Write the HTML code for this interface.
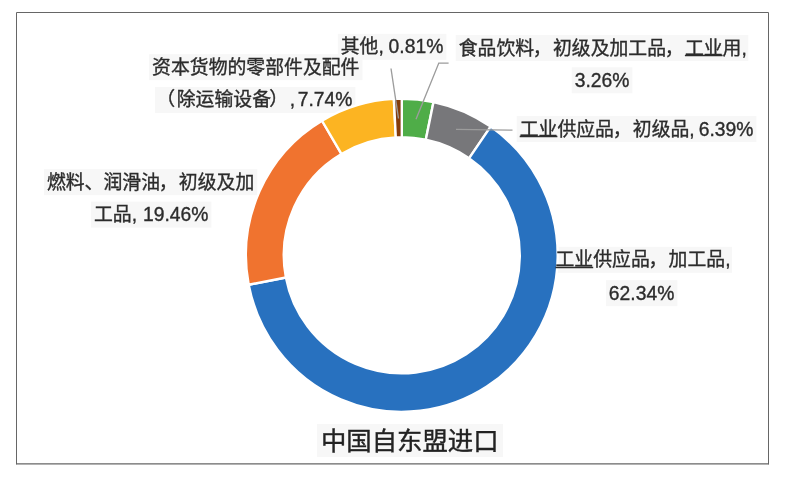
<!DOCTYPE html>
<html lang="zh-CN">
<head>
<meta charset="utf-8">
<title>中国自东盟进口</title>
<style>
html,body{margin:0;padding:0;background:#ffffff;}
body{width:785px;height:477px;overflow:hidden;font-family:"Liberation Sans","Noto Sans CJK SC",sans-serif;}
svg{display:block;will-change:transform;font-family:"Liberation Sans","Noto Sans CJK SC",sans-serif;}
.c{font-size:18.85px;}
</style>
</head>
<body>
<svg width="785" height="477" viewBox="0 0 785 477">
<path d="M16.5 464.3V12.5H768.5V464.3" fill="none" stroke="#666666" stroke-width="1"/><path d="M16 463.85H769" fill="none" stroke="#666666" stroke-width="1.3"/>
<g fill="#f7f7f7"><rect x="337.8" y="33.8" width="108.6" height="26"/><rect x="455.7" y="35.1" width="292.6" height="26"/><rect x="571.7" y="67.3" width="60.7" height="26"/><rect x="516.7" y="116.1" width="239.7" height="26"/><rect x="552.5" y="246.8" width="179.5" height="26"/><rect x="605.9" y="280.2" width="71.5" height="26"/><rect x="43.9" y="169.2" width="213.4" height="26"/><rect x="91.0" y="201.6" width="120.4" height="26"/><rect x="149.1" y="54.2" width="213.4" height="26"/><rect x="154.9" y="86.9" width="200.5" height="26"/><rect x="317" y="424" width="186" height="33"/></g>
<g stroke="#ffffff" stroke-width="2.4" stroke-linejoin="round"><path d="M401.80 98.70A155.90 156.60 0 0 1 433.51 101.97L425.80 139.77A118.00 118.00 0 0 0 401.80 137.30Z" fill="#4fad48"/><path d="M433.51 101.97A155.90 156.60 0 0 1 490.64 126.61L469.04 158.33A118.00 118.00 0 0 0 425.80 139.77Z" fill="#77777a"/><path d="M490.64 126.61A155.90 156.60 0 1 1 248.68 284.74L285.90 277.48A118.00 118.00 0 1 0 469.04 158.33Z" fill="#2871bf"/><path d="M248.68 284.74A155.90 156.60 0 0 1 322.02 120.76L341.41 153.92A118.00 118.00 0 0 0 285.90 277.48Z" fill="#f0732f"/><path d="M322.02 120.76A155.90 156.60 0 0 1 393.87 98.90L395.80 137.45A118.00 118.00 0 0 0 341.41 153.92Z" fill="#fcb422"/><path d="M393.87 98.90A155.90 156.60 0 0 1 401.80 98.70L401.80 137.30A118.00 118.00 0 0 0 395.80 137.45Z" fill="#843c0c"/></g>
<g fill="none" stroke="#9c9c9c" stroke-width="1.35"><path d="M391 68.5L398.5 118.5"/><path d="M448.6 63.1H438.8L416 119.2"/><path d="M512.5 130.2L456 129.4"/></g>
<g fill="#2c2c2c" stroke="#2c2c2c" stroke-width="0.35" font-size="19.3px"><text y="53.3"><tspan class="c" x="340.75 359.6">其他</tspan><tspan x="378.45">, </tspan><tspan x="388.60" textLength="54.72" lengthAdjust="spacing">0.81%</tspan></text><text y="54.6"><tspan class="c" x="458.7 477.55 496.4 515.25 532.8 552.95 571.8 590.65 609.5 628.35 647.2 664.75 684.9 703.75 722.6">食品饮料，初级及加工品，工业用</tspan><tspan x="741.45">, </tspan></text><text y="86.8"><tspan x="574.66" textLength="54.72" lengthAdjust="spacing">3.26%</tspan></text><text y="135.6"><tspan class="c" x="519.7 538.55 557.4 576.25 595.1 612.65 632.8 651.65 670.5">工业供应品，初级品</tspan><tspan x="689.35">, </tspan><tspan x="698.69" textLength="54.72" lengthAdjust="spacing">6.39%</tspan></text><text y="266.3"><tspan class="c" x="555.5 574.35 593.2 612.05 630.9 648.45 668.6 687.45 706.3">工业供应品，加工品</tspan><tspan x="725.15">, </tspan></text><text y="299.7"><tspan x="608.87" textLength="65.46" lengthAdjust="spacing">62.34%</tspan></text><text y="188.7"><tspan class="c" x="46.9 65.75 84.6 103.45 122.3 141.15 158.7 178.85 197.7 216.55 235.4">燃料、润滑油，初级及加</tspan></text><text y="221.1"><tspan class="c" x="94.0 112.85">工品</tspan><tspan x="131.70">, </tspan><tspan x="142.98" textLength="65.46" lengthAdjust="spacing">19.46%</tspan></text><text y="73.7"><tspan class="c" x="152.1 170.95 189.8 208.65 227.5 246.35 265.2 284.05 302.9 321.75 340.6">资本货物的零部件及配件</tspan></text><text y="106.4"><tspan class="c" x="156.2 176.75 195.6 214.45 233.3 252.15 269.3">（除运输设备）</tspan><tspan x="289.85">, </tspan><tspan x="297.69" textLength="54.72" lengthAdjust="spacing">7.74%</tspan></text></g>
<g stroke="#2c2c2c" stroke-width="1.4"><path d="M684.90 55.50H722.60"/><path d="M519.70 136.50H557.40"/><path d="M555.50 267.50H593.20"/></g>
<text x="320.9" y="449.8" font-size="25.4px" fill="#222222" stroke="#222222" stroke-width="0.4">中国自东盟进口</text>
</svg>
</body>
</html>
